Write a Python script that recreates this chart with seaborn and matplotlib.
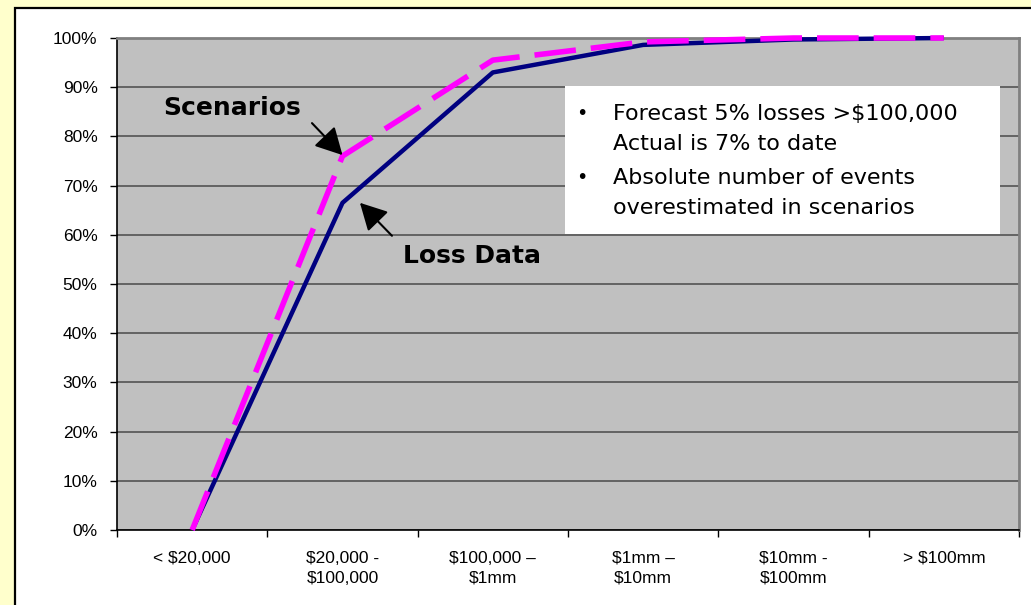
import matplotlib
matplotlib.use("Agg")
import matplotlib.pyplot as plt
from matplotlib.patches import Rectangle
import seaborn as sns
import pandas as pd

# ---- data ----
buckets = ["< $20,000", "$20,000 -\n$100,000", "$100,000 –\n$1mm",
           "$1mm –\n$10mm", "$10mm -\n$100mm", "> $100mm"]
loss_data = [0, 66.5, 93, 98.6, 99.7, 100]
scenarios = [0, 76, 95.5, 99.2, 100, 100]
series_names = ["Loss Data", "Scenarios"]
y_ticks = list(range(0, 101, 10))
bullet_lines = ["Forecast 5% losses >$100,000", "Actual is 7% to date",
                "Absolute number of events", "overestimated in scenarios"]

df = pd.DataFrame({
    "bucket": buckets * 2,
    "pct": loss_data + scenarios,
    "series": [series_names[0]] * len(buckets) + [series_names[1]] * len(buckets),
})

W, H = 1031, 605
fig = plt.figure(figsize=(W / 100, H / 100), dpi=100, facecolor="#FFFFCC")

# white panel with black border
fig.add_artist(Rectangle((15 / W, -0.05), 1.0, 1 - 8 / H + 0.05,
                         transform=fig.transFigure, facecolor="white",
                         edgecolor="black", lw=1.6, zorder=-1))

ax = fig.add_axes([117 / W, 1 - 530 / H, (1019 - 117) / W, (530 - 38) / H])
ax.set_facecolor("#C0C0C0")

sns.lineplot(data=df, x="bucket", y="pct", hue="series", style="series",
             hue_order=series_names, style_order=series_names,
             palette={"Loss Data": "#000080", "Scenarios": "#FF00FF"},
             dashes={"Loss Data": "", "Scenarios": (7.5, 2.7)},
             sort=False, errorbar=None, legend=False, ax=ax)

for ln, lw in zip(ax.lines, [3.2, 4.0]):
    ln.set_linewidth(lw)
    ln.set_clip_on(False)
    ln.set_zorder(4 if lw < 3.5 else 5)
    ln.set_solid_capstyle("butt")
    ln.set_dash_capstyle("butt")

ax.set_xlim(-0.5, len(buckets) - 0.5)
ax.set_ylim(0, 100)
ax.set_yticks(y_ticks)
ax.set_yticklabels([f"{v}%" for v in y_ticks])
ax.set_xticks([i + 0.5 for i in range(-1, len(buckets))])
ax.set_xticklabels([])
ax.set_xticks(range(len(buckets)), minor=True)
ax.set_xticklabels(buckets, minor=True, fontsize=12.5, family="Liberation Sans",
                   linespacing=1.4, va="top")
ax.tick_params(axis="x", which="minor", length=0, pad=15)
ax.tick_params(axis="x", which="major", length=5, width=1, color="black")
ax.tick_params(axis="y", length=5, width=1, color="black", pad=9,
               labelsize=12.5)
for lab in ax.get_yticklabels():
    lab.set_family("Liberation Sans")
ax.set_xlabel("")
ax.set_ylabel("")

ax.grid(axis="y", color="#4a4a4a", lw=1.1)
ax.grid(axis="x", visible=False)
ax.set_axisbelow(True)
for s in ["left", "bottom"]:
    ax.spines[s].set_color("black")
    ax.spines[s].set_linewidth(1.2)
for s in ["top", "right"]:
    ax.spines[s].set_color("#808080")
    ax.spines[s].set_linewidth(2)

# annotation box
ax.add_patch(Rectangle((2.479, 60.2), 5.374 - 2.479, 90.2 - 60.2,
                       facecolor="white", edgecolor="none", zorder=6,
                       clip_on=False))
line_y = [84.6, 78.5, 71.6, 65.4]
for txt, yy in zip(bullet_lines, line_y):
    ax.text(2.798, yy, txt, fontsize=16, family="DejaVu Sans", va="center",
            ha="left", zorder=7)
for yy in (line_y[0], line_y[2]):
    ax.text(2.59, yy, "•", fontsize=14, family="DejaVu Sans", va="center",
            ha="center", zorder=7)

ax.text(0.268, 85.8, "Scenarios", fontsize=18, fontweight="bold",
        family="DejaVu Sans", ha="center", va="center", zorder=7)
ax.text(1.861, 55.7, "Loss Data", fontsize=18, fontweight="bold",
        family="DejaVu Sans", ha="center", va="center", zorder=7)

arrow = dict(arrowstyle="-|>,head_length=0.75,head_width=0.4",
             color="black", lw=1.5, mutation_scale=22, shrinkA=0, shrinkB=0)
ax.annotate("", xy=(1.0, 76.2), xytext=(0.797, 82.7), arrowprops=arrow,
            zorder=7)
ax.annotate("", xy=(1.116, 66.5), xytext=(1.329, 59.8), arrowprops=arrow,
            zorder=7)

fig.savefig("out.png", dpi=100, facecolor=fig.get_facecolor())
